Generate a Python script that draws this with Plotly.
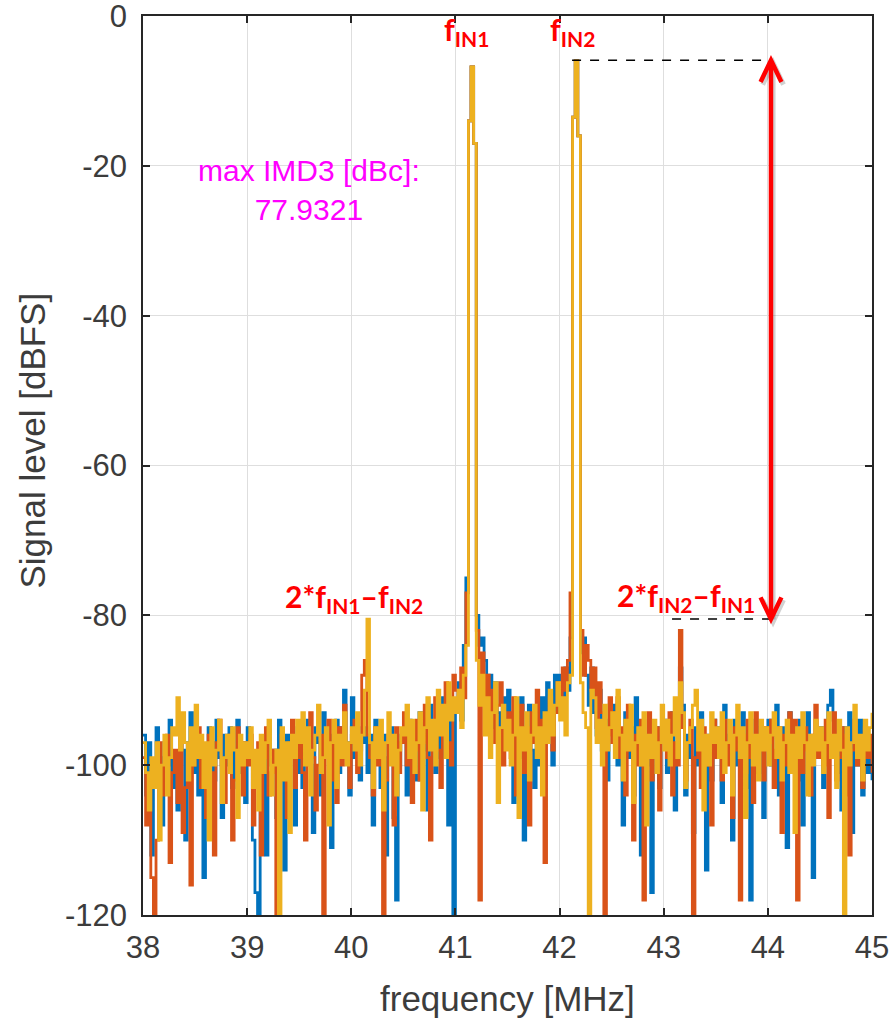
import plotly.graph_objects as go

# ---------------- data ----------------
f_start = 38.0
f_step = 0.025          # FFT bin spacing [MHz]

blue_db = [
    -96, -104, -97, -112, -101, -95, -99, -108, -97, -100, -94, -103, -99, -106, -95, -98, -110, -97, -93, -101,
    -96, -104, -98, -115, -100, -95, -97, -102, -94, -99, -107, -96, -100, -95, -103, -98, -94, -101, -97, -105,
    -95, -99, -110, -117, -120, -104, -97, -112, -95, -100, -98, -107, -94, -102, -114, -96, -99, -95, -108, -101,
    -96, -103, -98, -94, -100, -109, -95, -97, -104, -93, -99, -96, -111, -98, -94, -101, -95, -90, -97, -104,
    -91, -99, -95, -102, -97, -95, -101, -96, -108, -94, -98, -103, -96, -112, -99, -95, -107, -118, -100, -96,
    -97, -104, -94, -99, -96, -102, -93, -98, -95, -106, -92, -97, -101, -94, -99, -91, -96, -108, -93, -120,
    -92, -89, -94, -84, -75, -14, -6.8, -17, -80, -84, -83, -86, -90, -88, -95, -89, -93, -99, -91, -96,
    -90, -97, -105, -93, -99, -91, -110, -95, -92, -98, -103, -94, -100, -91, -96, -89, -94, -100, -88, -93,
    -88, -92, -87, -90, -83, -13.5, -6.0, -16, -85, -83, -88, -92, -87, -93, -96, -90, -98, -94, -102, -92,
    -95, -92, -100, -96, -108, -93, -99, -95, -104, -91, -97, -112, -96, -100, -94, -117, -98, -95, -103, -96,
    -94, -101, -97, -93, -106, -99, -87, -92, -104, -96, -99, -109, -95, -100, -93, -97, -114, -96, -102, -94,
    -98, -95, -105, -92, -99, -96, -110, -94, -100, -97, -93, -103, -96, -118, -99, -94, -101, -95, -107, -97,
    -94, -100, -96, -92, -104, -98, -95, -111, -93, -99, -96, -102, -94, -108, -97, -93, -100, -115, -96, -98,
    -95, -103, -97, -92, -90, -94, -101, -98, -106, -95, -99, -93, -109, -97, -100, -94, -104, -96, -101, -98,
    -102,
]

orange_db = [
    -99, -108, -102, -115, -120, -110, -97, -104, -100, -96, -113, -101, -98, -105, -96, -109, -103, -99, -116, -100,
    -98, -95, -103, -99, -107, -96, -101, -112, -97, -94, -100, -105, -98, -96, -110, -102, -95, -99, -104, -97,
    -100, -96, -108, -103, -97, -112, -99, -95, -104, -101, -98, -120, -102, -96, -100, -107, -97, -94, -103, -99,
    -95, -101, -110, -97, -93, -99, -106, -100, -96, -120, -98, -94, -102, -97, -105, -95, -100, -92, -99, -103,
    -96, -94, -101, -98, -88, -86, -96, -99, -104, -95, -100, -97, -120, -102, -96, -99, -108, -95, -101, -97,
    -93, -100, -96, -105, -98, -94, -102, -97, -92, -99, -110, -95, -91, -98, -103, -93, -89, -97, -100, -88,
    -90, -93, -87, -91, -77, -14, -6.8, -17, -82, -118, -85, -91, -88, -94, -90, -97, -92, -89, -100, -95,
    -93, -99, -91, -104, -96, -92, -101, -95, -108, -93, -97, -90, -99, -94, -113, -96, -91, -98, -93, -89,
    -92, -87, -90, -86, -77, -13.5, -6.0, -16, -82, -88, -84, -86, -90, -87, -95, -89, -93, -120, -96, -91,
    -97, -93, -91, -99, -95, -104, -92, -98, -110, -96, -100, -94, -118, -97, -93, -102, -99, -95, -106, -97,
    -95, -99, -93, -104, -97, -100, -82, -95, -102, -97, -94, -120, -99, -96, -103, -95, -100, -97, -108, -94,
    -99, -96, -102, -94, -100, -97, -107, -95, -98, -118, -96, -101, -94, -99, -105, -93, -98, -96, -102, -95,
    -97, -94, -103, -98, -95, -109, -96, -100, -93, -99, -94, -118, -97, -101, -95, -98, -104, -96, -92, -99,
    -96, -100, -94, -107, -97, -93, -102, -99, -95, -104, -96, -112, -98, -94, -100, -97, -103, -95, -99, -96,
    -101,
]

yellow_db = [
    -97, -101, -106, -99, -103, -97, -110, -100, -96, -104, -99, -95, -96, -91, -98, -93, -97, -102, -95, -100,
    -92, -99, -96, -103, -97, -110, -95, -100, -98, -94, -105, -99, -96, -101, -95, -98, -107, -96, -100, -97,
    -99, -95, -103, -98, -106, -96, -101, -97, -94, -104, -100, -98, -120, -95, -102, -97, -109, -96, -99, -94,
    -97, -93, -100, -95, -104, -98, -96, -92, -101, -99, -95, -108, -97, -94, -103, -96, -99, -93, -100, -97,
    -95, -98, -93, -100, -96, -90, -80.5, -97, -103, -95, -99, -94, -106, -97, -93, -100, -96, -104, -98, -95,
    -96, -92, -99, -94, -101, -97, -93, -106, -95, -91, -98, -94, -100, -90, -96, -92, -99, -89, -94, -91,
    -93, -90, -95, -88, -84, -14, -6.8, -17, -86, -92, -88, -96, -91, -99, -93, -89, -105, -95, -92, -98,
    -94, -100, -96, -91, -107, -95, -98, -93, -102, -96, -92, -99, -95, -104, -93, -97, -90, -96, -92, -89,
    -94, -91, -96, -89, -88, -13.5, -6.0, -16, -89, -93, -95, -120, -90, -91, -97, -94, -100, -92, -98, -95,
    -93, -99, -90, -96, -102, -94, -98, -92, -105, -97, -95, -100, -93, -108, -96, -99, -94, -101, -97, -92,
    -98, -94, -100, -96, -91, -99, -89, -93, -103, -97, -95, -92, -90, -98, -94, -106, -96, -100, -93, -97,
    -95, -99, -93, -101, -97, -94, -104, -96, -92, -99, -95, -107, -97, -93, -100, -96, -102, -94, -98, -95,
    -100, -96, -93, -99, -95, -102, -97, -94, -101, -96, -109, -95, -99, -93, -97, -104, -96, -100, -94, -98,
    -95, -101, -97, -93, -99, -96, -103, -94, -98, -120, -95, -100, -97, -92, -99, -96, -102, -94, -98, -95,
    -93,
]

freq_mhz = [f_start + i * f_step for i in range(len(yellow_db))]

x_ticks = [38, 39, 40, 41, 42, 43, 44, 45]
y_ticks = [-120, -100, -80, -60, -40, -20, 0]
x_tick_text = [str(v) for v in x_ticks]
y_tick_text = [str(v) for v in y_ticks]   # plain hyphen-minus as in MATLAB

f_in1 = 41.15          # tone 1 [MHz]
f_in2 = 42.15          # tone 2 [MHz]
tone_level = -5.9      # top reference level [dBFS]
imd3_level = -80.5     # IMD3 reference level [dBFS]
arrow_x = 44.03        # MHz
imd_text = "max IMD3 [dBc]:<br>77.9321"

# ---------------- figure ----------------
colors = ["#0072BD", "#D95319", "#EDB120"]
fig = go.Figure()
for ys, c in zip([blue_db, orange_db, yellow_db], colors):
    fig.add_trace(go.Scatter(x=freq_mhz, y=ys, mode="lines",
                             line=dict(color=c, width=2.8, shape="hv"), showlegend=False,
                             hoverinfo="skip"))

axis_common = dict(
    showgrid=True, gridcolor="#dedede", gridwidth=1.3,
    showline=True, linecolor="#262626", linewidth=1.5, mirror="allticks",
    ticks="inside", ticklen=7, tickwidth=1.5, tickcolor="#262626",
    tickfont=dict(family="Liberation Sans, Arial", size=31, color="#3c3c3c"),
    zeroline=False, automargin=False, ticklabeloverflow="allow",
)
fig.update_xaxes(range=[38, 45], tickvals=x_ticks, ticktext=x_tick_text,
                 ticklabelstandoff=4, **axis_common)
fig.update_yaxes(range=[-120, 0], tickvals=y_ticks, ticktext=y_tick_text,
                 ticklabelstandoff=8, **axis_common)

title_font = dict(family="Liberation Sans, Arial", size=35, color="#3c3c3c")
fig.add_annotation(xref="paper", yref="paper", x=0.5, y=-0.0925, text="frequency [MHz]",
                   showarrow=False, font=title_font, xanchor="center", yanchor="middle")
fig.add_annotation(xref="paper", yref="paper", x=-0.152, y=0.528, text="Signal level [dBFS]",
                   showarrow=False, font=title_font, textangle=-90,
                   xanchor="center", yanchor="middle")

red_font = dict(family="Lato, Open Sans", size=30, color="#FF0000")
labels = [
    ("<b>f<sub>IN1</sub></b>", f_in1 - 0.04, -2.0),
    ("<b>f<sub>IN2</sub></b>", f_in2 - 0.03, -2.0),
    ("<b>2*f<sub>IN1</sub>\u2013f<sub>IN2</sub></b>", 2 * f_in1 - f_in2 - 0.12, -77.7),
    ("<b>2*f<sub>IN2</sub>\u2013f<sub>IN1</sub></b>", 2 * f_in2 - f_in1 + 0.06, -77.6),
]
for txt, xx, yy in labels:
    fig.add_annotation(x=xx, y=yy, text=txt, showarrow=False, font=red_font,
                       xanchor="center", yanchor="middle")

fig.add_annotation(x=39.59, y=-23.2, text=imd_text, showarrow=False,
                   font=dict(family="Liberation Sans, Arial", size=30, color="#FF00FF"),
                   align="center", xanchor="center", yanchor="middle")

# dashed reference lines
fig.add_shape(type="line", x0=f_in2 - 0.03, x1=arrow_x, y0=tone_level, y1=tone_level,
              line=dict(color="black", width=1.5, dash="dash"))
fig.add_shape(type="line", x0=2 * f_in2 - f_in1 - 0.07, x1=arrow_x, y0=imd3_level, y1=imd3_level,
              line=dict(color="black", width=1.5, dash="dash"))

# double arrow (with light shadow)
head_dx, head_dy = 0.1, 2.9
def arrow(dx, dy, color, width):
    fig.add_shape(type="line", x0=arrow_x + dx, x1=arrow_x + dx,
                  y0=tone_level + dy - 0.3, y1=imd3_level + dy + 0.3,
                  line=dict(color=color, width=width))
    for tip, sgn in [(tone_level, -1), (imd3_level, 1)]:
        path = (f"M {arrow_x + dx - head_dx},{tip + dy + sgn * head_dy} "
                f"L {arrow_x + dx},{tip + dy} L {arrow_x + dx + head_dx},{tip + dy + sgn * head_dy}")
        fig.add_shape(type="path", path=path, line=dict(color=color, width=width))

arrow(0.02, -0.35, "rgba(0,0,0,0.18)", 5)
arrow(0, 0, "#FF0000", 4.5)

fig.update_layout(
    width=892, height=1018,
    margin=dict(l=143, r=20, t=16, b=103),
    plot_bgcolor="white", paper_bgcolor="white",
)

fig.write_html("out.html")
